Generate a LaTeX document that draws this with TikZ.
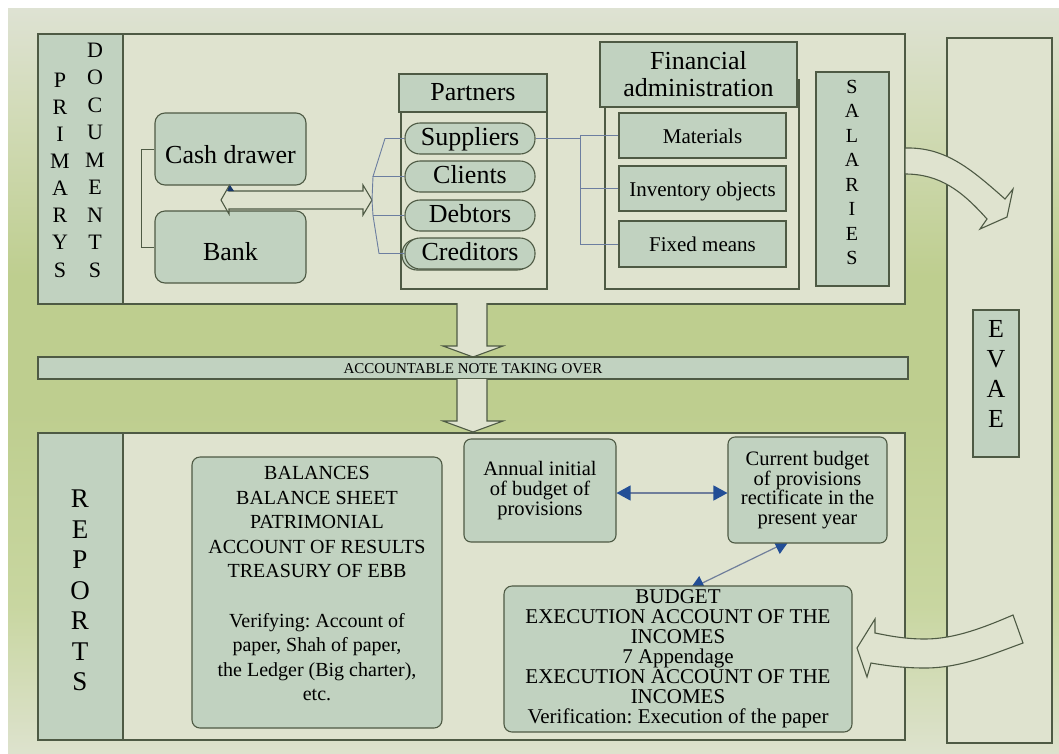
\documentclass[tikz,border=0pt]{standalone}
\usepackage{fontspec}
\setmainfont{Liberation Serif}
\usetikzlibrary{arrows.meta}
\frenchspacing

\definecolor{panel}{RGB}{223,227,207}
\definecolor{sage}{RGB}{193,210,192}
\definecolor{edge}{RGB}{78,90,68}
\definecolor{wire}{RGB}{108,126,160}
\definecolor{tipblue}{RGB}{34,78,150}
\definecolor{bgtop}{RGB}{222,226,211}
\definecolor{bgupper}{RGB}{210,219,184}
\definecolor{bggreen}{RGB}{190,206,143}
\definecolor{bgmid}{RGB}{200,214,160}
\definecolor{bgbot}{RGB}{221,226,205}

% page background: light at the top and bottom, green through the middle
\pgfdeclareverticalshading{bgshade}{100bp}{color(0bp)=(bgbot); color(25bp)=(bgbot); color(35bp)=(bgmid); color(48bp)=(bggreen); color(57bp)=(bggreen); color(68bp)=(bgupper); color(75bp)=(bgtop); color(100bp)=(bgtop)}

\tikzset{
  frame/.style={draw=edge, line width=1.1pt, fill=panel, inner sep=0pt},
  sagebox/.style={draw=edge, line width=1.1pt, fill=sage, inner sep=0pt},
  roundbox/.style={sagebox, rounded corners=10pt},
  softbox/.style={sagebox, rounded corners=7pt, align=center},
  pill/.style={sagebox, rounded corners=15pt, minimum width=130pt, minimum height=31pt,
    font=\fontsize{26}{26}\selectfont, text height=13pt, text depth=0pt},
  subbox/.style={sagebox, minimum width=167pt, minimum height=45pt,
    font=\fontsize{21}{21}\selectfont, text height=15pt, text depth=0pt},
  letters/.style={inner sep=0pt, align=center},
  wirefan/.style={draw=wire, line width=0.9pt},
  blockarrow/.style={draw=edge, line width=1.1pt, fill=panel, line join=miter},
  tiparrow/.style={draw=wire!85!gray, line width=1.2pt,
    {Triangle[length=14pt,width=15pt,color=tipblue]}-{Triangle[length=14pt,width=15pt,color=tipblue]}},
}

\begin{document}
\begin{tikzpicture}[x=1pt,y=-1pt]
\useasboundingbox (0,0) rectangle (1059,753);
\shade[shading=bgshade] (8,8) rectangle (1059,753);

% ---------- EVAE column ----------
\node[frame, minimum width=105pt, minimum height=705pt] (evaecol) at (999.5,390.5) {};
\node[sagebox, minimum width=46pt, minimum height=147pt] (evae) at (996,383.5) {};
\node[letters, font=\fontsize{26}{30}\selectfont] (evaeword) at (996,373.5) {E\\V\\A\\E};

% ---------- primary documents band ----------
\node[frame, minimum width=867pt, minimum height=270pt] (entry) at (471.5,169) {};
\node[sagebox, minimum width=85pt, minimum height=270pt] (primary) at (80.5,169) {};
\node[letters, font=\fontsize{22}{27.14}\selectfont] (primword) at (60,175) {P\\R\\I\\M\\A\\R\\Y\\S};
\node[letters, font=\fontsize{22}{27.5}\selectfont] (docword) at (95,160) {D\\O\\C\\U\\M\\E\\N\\T\\S};

\node[roundbox, minimum width=151pt, minimum height=72pt, font=\fontsize{26}{26}\selectfont,
  text height=28pt, text depth=0pt] (cash) at (230.5,149) {Cash drawer};
\node[roundbox, minimum width=151pt, minimum height=72pt, font=\fontsize{26}{26}\selectfont,
  text height=26pt, text depth=0pt] (bank) at (230.5,247) {Bank};
\draw[edge, line width=1pt] (cash.west) -- ++(-13,0) |- (bank.west);

% partners
\node[frame, minimum width=146pt, minimum height=177pt] (partbody) at (474,200.5) {};
\node[sagebox, minimum width=148pt, minimum height=38pt, font=\fontsize{26}{26}\selectfont,
  text height=14pt, text depth=0pt] (partners) at (473,93) {Partners};
\node[pill] (sup) at (470,138.5) {Suppliers};
\node[pill] (cli) at (470,176.5) {Clients};
\node[pill] (deb) at (470,215.5) {Debtors};
\node[sagebox, rounded corners=15pt, minimum width=130pt, minimum height=31pt] (credshadow) at (467,254.5) {};
\node[pill] (cred) at (470,253.5) {Creditors};

% two-way exchange between cash/bank and partners
\coordinate (xl) at (221,200);
\coordinate (xr) at (372,200);
\path[blockarrow] (xl) -- (229,186) -- (229,191) -- (363,191) -- (363,185) -- (xr)
  -- (363,215) -- (363,209) -- (229,209) -- (229,214) -- cycle;
\fill[tipblue!70!black] (227,191) -- (230,185) -- (234,191) -- cycle;

\coordinate (fanA) at (385,138.5);
\coordinate (fanB) at (373,176.5);
\coordinate (fanD) at (373,215.5);
\coordinate (fanE) at (379,253.5);
\draw[wirefan] (sup.west) -- (fanA) -- (fanB) -- (cli.west);
\draw[wirefan] (fanB) -- (xr) -- (fanD) -- (deb.west);
\draw[wirefan] (fanD) -- (fanE) -- (cred.west);

% financial administration
\node[frame, minimum width=194pt, minimum height=209pt] (finbody) at (702,184.5) {};
\node[sagebox, minimum width=197pt, minimum height=65pt, align=center,
  font=\fontsize{26}{27}\selectfont] (finhead) at (698.5,74.5) {Financial\\administration};
\node[subbox] (mat) at (702.5,135.5) {Materials};
\node[subbox] (inv) at (702.5,188.5) {Inventory objects};
\node[subbox, minimum height=46pt] (fix) at (702.5,244) {Fixed means};
\draw[wirefan] (mat.west) -- ++(-38,0) coordinate (jn) -- (jn |- fix.west) -- (fix.west);
\draw[wirefan] (inv.west) -- (inv.west -| jn);
\draw[wirefan] (sup.east) -- (sup.east -| jn);

% salaries
\node[sagebox, minimum width=73pt, minimum height=214pt] (sal) at (852.5,179) {};
\node[letters, font=\fontsize{20}{24.43}\selectfont] (salword) at (852,172.5) {S\\A\\L\\A\\R\\I\\E\\S};

% ---------- accountable note bar and its arrows ----------
\path[blockarrow] (457,303) -- (457,346) -- (443,346) -- (473,357) -- (503,346) -- (487,346) -- (487,303);
\node[sagebox, minimum width=870pt, minimum height=22pt, font=\fontsize{15}{15}\selectfont,
  text height=10pt, text depth=0pt] (note) at (473,368) {ACCOUNTABLE NOTE TAKING OVER};
\path[blockarrow] (457,379) -- (457,421) -- (443,421) -- (473,432) -- (503,421) -- (487,421) -- (487,379);

% ---------- reports band ----------
\node[frame, minimum width=867pt, minimum height=307pt] (reports) at (471.5,586.5) {};
\node[sagebox, minimum width=85pt, minimum height=307pt] (reppanel) at (80.5,586.5) {};
\node[letters, font=\fontsize{27}{30.5}\selectfont] (repword) at (80,590.5) {R\\E\\P\\O\\R\\T\\S};

\node[sagebox, rounded corners=8pt, minimum width=250pt, minimum height=271pt] (balances) at (317,592.5) {};
\node[letters, anchor=north, font=\fontsize{20}{24.6}\selectfont] (baltext) at (317,466)
  {BALANCES\\BALANCE SHEET\\PATRIMONIAL\\ACCOUNT OF RESULTS\\TREASURY OF EBB\\[24.6pt]
   Verifying: Account of\\paper, Shah of paper,\\the Ledger (Big charter),\\etc.};

% links between the budget boxes (heads tuck under the boxes)
\coordinate (dgA) at (690,589);
\coordinate (dgB) at (789,541);
\draw[tiparrow] (dgA) -- (dgB);

\node[softbox, minimum width=152pt, minimum height=103pt, font=\fontsize{20.5}{20}\selectfont]
  (annual) at (540,490.5) {Annual initial\\of budget of\\provisions};
\node[softbox, minimum width=159pt, minimum height=106pt, font=\fontsize{20.5}{19.5}\selectfont]
  (current) at (807.5,490) {Current budget\\of provisions\\rectificate in the\\present year};
\node[softbox, rounded corners=8pt, minimum width=348pt, minimum height=146pt, font=\fontsize{21}{20}\selectfont]
  (budget) at (678,659) {BUDGET\\EXECUTION ACCOUNT OF THE\\INCOMES\\7 Appendage\\EXECUTION ACCOUNT OF THE\\INCOMES\\Verification: Execution of the paper};

\draw[tiparrow] ([yshift=-2.5pt]annual.east) -- ([yshift=-3pt]current.west);

% ---------- flows to and from EVAE ----------
\path[blockarrow] (905,148) .. controls (945,147) and (970,168) .. (1005,199)
  -- (1013,189) -- (1007,217) -- (980,229) -- (987,219)
  .. controls (962,191) and (940,174) .. (905,174) -- cycle;

\path[blockarrow] (1013,615) .. controls (985,627) and (955,639) .. (925,639)
  .. controls (905,639) and (890,636) .. (875,633)
  -- (875,619) -- (857,648) -- (867,677) -- (871,663)
  .. controls (888,666) and (905,668) .. (925,668)
  .. controls (960,668) and (990,655) .. (1023,643) -- cycle;
\end{tikzpicture}
\end{document}
